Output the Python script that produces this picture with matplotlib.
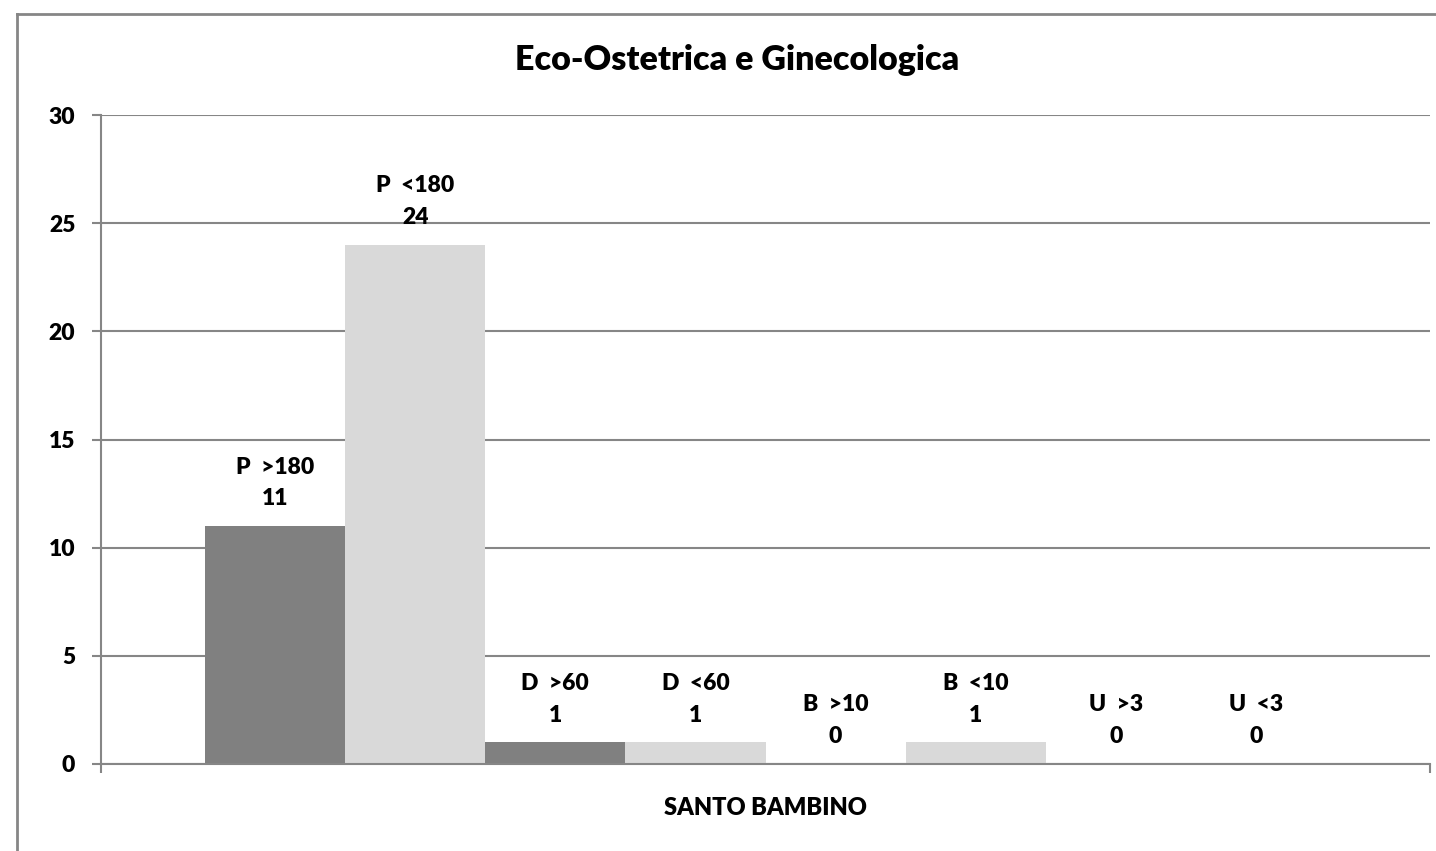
import matplotlib
matplotlib.use('Agg')
import matplotlib.pyplot as plt
from matplotlib.lines import Line2D
import numpy as np

# data
bar_names = ['P  >180', 'P  <180', 'D  >60', 'D  <60', 'B  >10', 'B  <10', 'U  >3', 'U  <3']
bar_values = [11, 24, 1, 1, 0, 1, 0, 0]
category = 'SANTO BAMBINO'
title = 'Eco-Ostetrica e Ginecologica'
yticks = [0, 5, 10, 15, 20, 25, 30]

dark = '#808080'
light = '#d9d9d9'
grey = '#868686'
W = 800  # Lato ExtraBold, closest to the heavy Calibri bold of the original

plt.rcParams['font.family'] = ['Lato', 'DejaVu Sans']
plt.rcParams['font.weight'] = W

fig = plt.figure(figsize=(14.36, 8.51), dpi=100)
ax = fig.add_axes([101 / 1436, 87 / 851, 1329 / 1436, 649 / 851])

n = len(bar_values)
x = np.arange(n) - (n - 1) / 2
colors = [dark if i % 2 == 0 else light for i in range(n)]
ax.bar(x, bar_values, width=1.0, color=colors, zorder=2)

gap = 104 / 140
ax.set_xlim(x[0] - 0.5 - gap, x[-1] + 0.5 + gap)
ax.set_ylim(0, 30)
ax.set_yticks(yticks)
ax.set_xticks([x[0] - 0.5 - gap, x[-1] + 0.5 + gap])
ax.set_xticklabels(['', ''])
ax.yaxis.grid(True, color=grey, linewidth=1.5, zorder=0)
ax.set_axisbelow(True)

for s in ['top', 'right']:
    ax.spines[s].set_visible(False)
for s in ['left', 'bottom']:
    ax.spines[s].set_color(grey)
    ax.spines[s].set_linewidth(1.5)
ax.tick_params(axis='both', color=grey, width=1.5, length=6.5, labelsize=16.5)
ax.tick_params(axis='y', pad=12)
for lbl in ax.get_yticklabels():
    lbl.set_fontweight(W)

for xi, v, name in zip(x, bar_values, bar_names):
    ax.annotate(str(v), (xi, v), xytext=(0, 19.5), textcoords='offset points',
                ha='center', va='center', fontsize=16.5, fontweight=W)
    ax.annotate(name, (xi, v), xytext=(0, 42.5), textcoords='offset points',
                ha='center', va='center', fontsize=16.5, fontweight=W)

fig.text(737 / 1436, 1 - 60 / 851, title, ha='center', va='center',
         fontsize=24.5, fontweight=W)
fig.text(765 / 1436, 1 - 808 / 851, category, ha='center', va='center',
         fontsize=17, fontweight=W)

# outer chart border (left and top visible, rest is cropped)
fig.add_artist(Line2D([17 / 1436, 17 / 1436], [0, 1 - 14 / 851], transform=fig.transFigure,
                      color=grey, linewidth=2))
fig.add_artist(Line2D([17 / 1436, 1], [1 - 14 / 851, 1 - 14 / 851], transform=fig.transFigure,
                      color=grey, linewidth=2))

fig.savefig('out.png', dpi=100)
